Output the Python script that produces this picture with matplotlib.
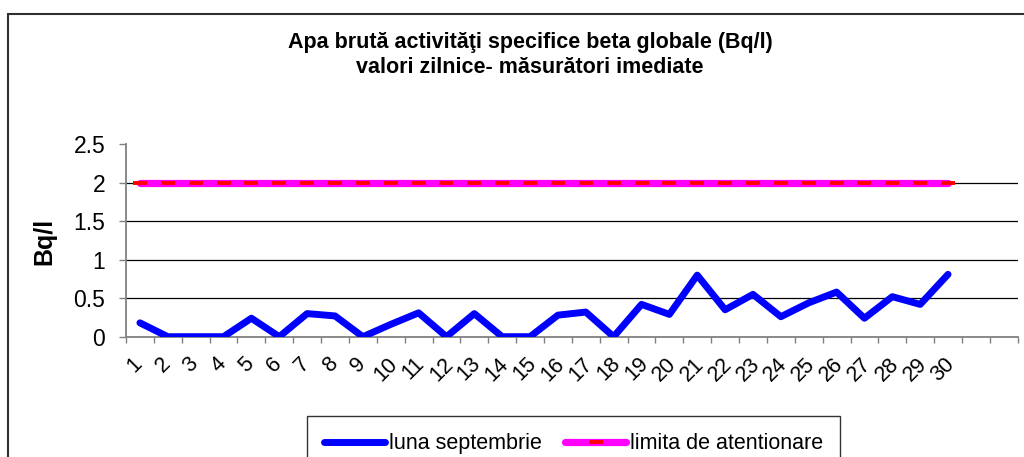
import numpy as np
import matplotlib
matplotlib.use("Agg")
import matplotlib.pyplot as plt
from matplotlib.patches import Rectangle
from matplotlib.transforms import ScaledTranslation

plt.rcParams['font.family'] = ['Liberation Sans', 'DejaVu Sans']

# zilele lunii
days = list(range(1, 31))
n_slots = 32  # categoriile axei (ultimele doua goale)

# valori zilnice beta globale (Bq/l)
september = [0.18, 0.0, 0.0, 0.0, 0.24, 0.0, 0.30, 0.27, 0.0, 0.16,
             0.31, 0.0, 0.30, 0.0, 0.0, 0.28, 0.32, 0.0, 0.42, 0.29,
             0.80, 0.35, 0.55, 0.26, 0.44, 0.58, 0.24, 0.52, 0.42, 0.81]
limit = [2.0] * 30

title = "Apa brută activităţi specifice beta globale (Bq/l)\nvalori zilnice- măsurători imediate"
ylabel = "Bq/l"
yticks = [0, 0.5, 1, 1.5, 2, 2.5]
ytick_labels = ["0", "0.5", "1", "1.5", "2", "2.5"]
legend_labels = ["luna septembrie", "limita de atentionare"]

W, H = 1024, 457
fig = plt.figure(figsize=(W / 100, H / 100), dpi=100)
ax = fig.add_axes([126 / W, 1 - 336.7 / H, (1017.7 - 126) / W, (336.7 - 144.3) / H])

# chenarul exterior al graficului
fig.patches.append(Rectangle((8 / W, -0.2), 1.2, 1.2 - 14 / H,
                             transform=fig.transFigure, fill=False,
                             edgecolor='#303030', linewidth=1.5, clip_on=False))

# linii de grila
for yv in [0.5, 1, 1.5, 2]:
    ax.axhline(yv, color='black', linewidth=0.9, zorder=1)

ax.plot(days, september, color='#0000FF', linewidth=5,
        solid_joinstyle='round', solid_capstyle='round', zorder=3,
        label=legend_labels[0])
ax.plot(days, limit, color='#FF00FF', linewidth=5.2,
        solid_capstyle='round', marker='_', markersize=10,
        markeredgewidth=2.8, markeredgecolor='#FF0000', zorder=4,
        label=legend_labels[1])

ax.set_xlim(0.5, n_slots + 0.5)
ax.set_ylim(0, 2.5)

ax.set_xticks(np.arange(0.5, n_slots + 1, 1))
ax.set_xticklabels([])
ax.set_xticks(days, minor=True)
ax.set_xticklabels([str(d) for d in days], minor=True, rotation=45,
                   ha='center', va='top', fontsize=15.5)
ax.tick_params(axis='x', which='major', direction='out', length=4.5,
               width=1, color='#808080')
ax.tick_params(axis='x', which='minor', length=0, pad=12)
for lbl in ax.get_xticklabels(minor=True):
    lbl.set_transform(lbl.get_transform() + ScaledTranslation(-0.05, 0, fig.dpi_scale_trans))

ax.set_yticks(yticks)
ax.set_yticklabels(ytick_labels, fontsize=16.5)
ax.tick_params(axis='y', direction='out', length=5, width=1,
               color='#808080', pad=10)

for s in ['top', 'right']:
    ax.spines[s].set_visible(False)
for s in ['left', 'bottom']:
    ax.spines[s].set_color('#808080')
    ax.spines[s].set_linewidth(1.3)

fig.text(44 / W, 1 - 241 / H, ylabel, rotation=90, fontsize=18,
         fontweight='bold', ha='center', va='center')
fig.text(530 / W, 1 - 55 / H, title, fontsize=15.5, fontweight='bold',
         ha='center', va='center', linespacing=1.3)

leg = fig.legend(loc='upper left', bbox_to_anchor=(307 / W, 1 - 416 / H),
                 ncol=2, fontsize=15.5, frameon=True, fancybox=False,
                 borderaxespad=0, handlelength=2.8, handletextpad=0.2,
                 columnspacing=1.1, borderpad=0.8)
leg.get_frame().set_edgecolor('black')
leg.get_frame().set_linewidth(1.0)

fig.savefig("out.png", dpi=100)
